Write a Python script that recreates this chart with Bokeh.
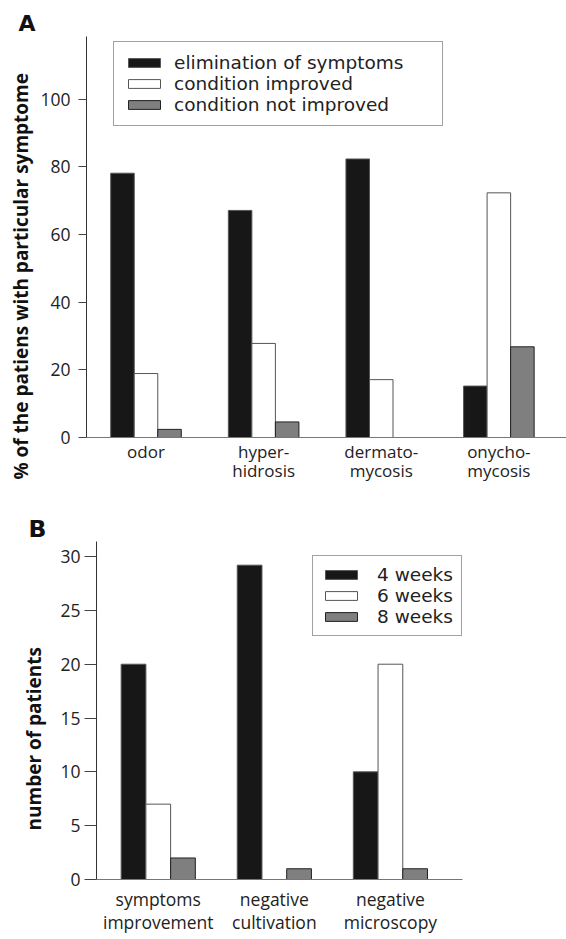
import numpy as np
from bokeh.plotting import figure
from bokeh.models import Range1d, FixedTicker, Title
from bokeh.layouts import column
from bokeh.embed import file_html
from bokeh.resources import INLINE

# ---------------- data: panel A ----------------
symptoms_a = ["odor", "hyper-\nhidrosis", "dermato-\nmycosis", "onycho-\nmycosis"]
series_a = ["elimination of symptoms", "condition improved", "condition not improved"]
elimination = [78.1, 67.1, 82.3, 15.2]
improved = [18.9, 27.8, 17.1, 72.3]
not_improved = [2.4, 4.6, 0.0, 26.8]
ticks_a = [0, 20, 40, 60, 80, 100]
ylabel_a = "% of the patiens with particular symptome"

# ---------------- data: panel B ----------------
outcomes_b = ["symptoms\nimprovement", "negative\ncultivation", "negative\nmicroscopy"]
series_b = ["4 weeks", "6 weeks", "8 weeks"]
weeks4 = [20, 29.2, 10]
weeks6 = [7, 0, 20]
weeks8 = [2, 1, 1]
ticks_b = [0, 5, 10, 15, 20, 25, 30]
ylabel_b = "number of patients"

# ---------------- styles ----------------
FONT = "Open Sans"
LEG_FONT = "DejaVu Sans"
FILLS = ["#171717", "#ffffff", "#7f7f7f"]
LINES = ["#555555", "#555555", "#222222"]


def style_axes(p, tick_out, standoff, xstandoff, xfont, xline_height):
    p.xgrid.visible = False
    p.ygrid.visible = False
    p.outline_line_color = None
    p.background_fill_color = "white"
    p.border_fill_color = "white"
    if "frame_align" in p.properties():
        p.frame_align = False
    for ax in p.yaxis:
        ax.axis_line_color = "#333333"
        ax.major_tick_line_color = "#444444"
        ax.major_tick_out = tick_out
        ax.major_tick_in = 0
        ax.minor_tick_line_color = None
        ax.major_label_standoff = standoff
        ax.major_label_text_font = FONT
        ax.major_label_text_font_size = "17.5px"
        ax.major_label_text_color = "#222222"
    for ax in p.xaxis:
        ax.axis_line_color = "#777777"
        ax.major_tick_line_color = None
        ax.minor_tick_line_color = None
        ax.major_label_standoff = xstandoff
        ax.major_label_text_font = FONT
        ax.major_label_text_font_size = xfont
        ax.major_label_text_line_height = xline_height
        ax.major_label_text_color = "#222222"


def style_legend(leg, loc, label_width, standoff, padding, font_size):
    leg.location = loc
    leg.margin = 0
    leg.padding = padding
    leg.spacing = 0
    leg.glyph_width = 40
    leg.glyph_height = 11
    leg.label_standoff = standoff
    leg.label_width = label_width
    leg.label_height = 20
    leg.label_text_font = LEG_FONT
    leg.label_text_font_size = font_size
    leg.label_text_color = "#222222"
    leg.border_line_color = "#444444"
    leg.border_line_width = 1
    leg.background_fill_color = "white"
    leg.background_fill_alpha = 1


def panel_titles(p, letter, letter_size, letter_standoff, ylabel, yoffset, ystandoff):
    p.title.text = letter
    p.title.align = "left"
    p.title.offset = -68
    p.title.standoff = letter_standoff
    p.title.text_font = "DejaVu Sans"
    p.title.text_font_style = "bold"
    p.title.text_font_size = letter_size
    p.title.text_color = "#111111"
    p.add_layout(Title(text=ylabel, align="left", offset=yoffset, standoff=ystandoff,
                       text_font=FONT, text_font_style="bold", text_font_size="19px",
                       text_color="#111111"), "left")


# ---------------- panel A ----------------
pA = figure(width=566, height=490, x_range=Range1d(-0.506, 3.575), y_range=Range1d(0, 118.5),
            output_backend="svg", toolbar_location=None,
            min_border_left=86, min_border_right=0, min_border_top=36, min_border_bottom=53)
xa = np.arange(len(symptoms_a))
offs = [-0.2, 0.0, 0.2]
for vals, name, off, fc, lc in zip([elimination, improved, not_improved], series_a, offs, FILLS, LINES):
    pA.vbar(x=xa + off, top=vals, width=0.2, fill_color=fc, line_color=lc, line_width=1,
            legend_label=name)
style_axes(pA, 8, 8, -4, "17px", 0.86)
pA.yaxis.ticker = FixedTicker(ticks=ticks_a)
pA.xaxis.ticker = FixedTicker(ticks=list(range(len(symptoms_a))))
pA.xaxis.major_label_overrides = {i: s for i, s in enumerate(symptoms_a)}
style_legend(pA.legend[0], (27, 311), 258, 10, 10, "18.5px")
panel_titles(pA, "A", "22px", 2, ylabel_a, -42, 8)

# ---------------- panel B ----------------
pB = figure(width=566, height=449, x_range=Range1d(-0.532, 2.621), y_range=Range1d(0, 31.4),
            output_backend="svg", toolbar_location=None,
            min_border_left=96, min_border_right=104, min_border_top=51, min_border_bottom=60)
xb = np.arange(len(outcomes_b))
offs_b = [-0.213, 0.0, 0.213]
for vals, name, off, fc, lc in zip([weeks4, weeks6, weeks8], series_b, offs_b, FILLS, LINES):
    pB.vbar(x=xb + off, top=vals, width=0.213, fill_color=fc, line_color=lc, line_width=1,
            legend_label=name)
style_axes(pB, 12, 4, 1, "17.5px", 0.966)
pB.yaxis.ticker = FixedTicker(ticks=ticks_b)
pB.xaxis.ticker = FixedTicker(ticks=list(range(len(outcomes_b))))
pB.xaxis.major_label_overrides = {i: s for i, s in enumerate(outcomes_b)}
style_legend(pB.legend[0], (216, 243), 76, 16, 8, "18.5px")
panel_titles(pB, "B", "23.5px", -3, ylabel_b, 49, 21)

layout = column(pA, pB, spacing=0)
open("out.html", "w").write(file_html(layout, INLINE))
